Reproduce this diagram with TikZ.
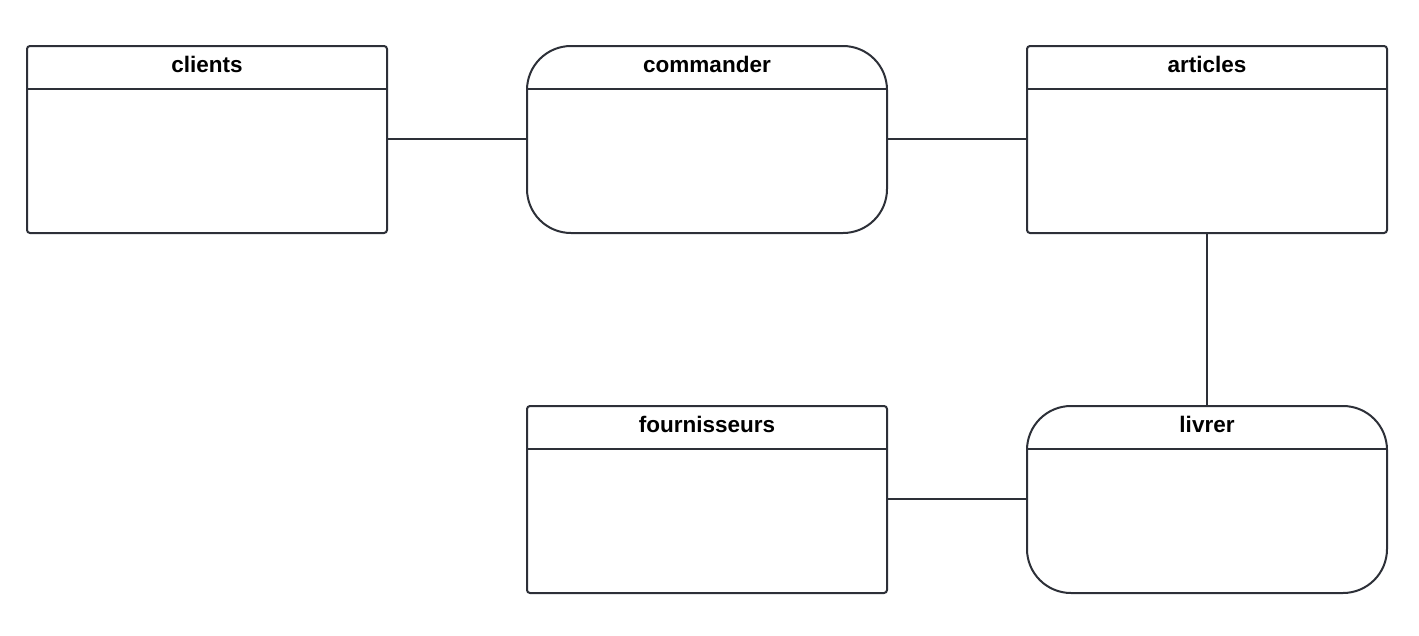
\documentclass[tikz,border=0pt]{standalone}
\usepackage{fontspec}
\setmainfont{Liberation Sans}
\begin{document}
\begin{tikzpicture}[x=1pt,y=-1pt,
  line width=2pt,
  ent/.style={draw=lc, line width=2pt, rectangle, rounded corners=3pt, minimum width=360pt, minimum height=187pt, inner sep=0pt, outer sep=0pt, anchor=north west, fill=white},
  rel/.style={draw=lc, line width=2pt, rectangle, rounded corners=44pt, minimum width=360pt, minimum height=187pt, inner sep=0pt, outer sep=0pt, anchor=north west, fill=white},
  ttl/.style={font=\bfseries\fontsize{22.5}{27}\selectfont, anchor=base, inner sep=0pt},
  conn/.style={draw=lc, line width=2pt}
]
\definecolor{lc}{HTML}{2D3038}
\useasboundingbox (0,0) rectangle (1419,635);
\fill[white] (0,0) rectangle (1419,635);

\node[ent] (clients) at (27,46) {};
\node[rel] (commander) at (527,46) {};
\node[ent] (articles) at (1027,46) {};
\node[ent] (fournisseurs) at (527,406) {};
\node[rel] (livrer) at (1027,406) {};

\foreach \n/\t in {clients/clients, commander/commander, articles/articles, fournisseurs/fournisseurs, livrer/livrer}{
  \draw[conn] ([yshift=-43pt]\n.north west) -- ([yshift=-43pt]\n.north east);
  \node[ttl] at ([yshift=-26pt]\n.north) {\t};
}

\draw[conn] (clients.east |- 0,139) -- (commander.west |- 0,139);
\draw[conn] (commander.east |- 0,139) -- (articles.west |- 0,139);
\draw[conn] (articles.south) -- (livrer.north);
\draw[conn] (fournisseurs.east |- 0,499) -- (livrer.west |- 0,499);
\end{tikzpicture}
\end{document}
